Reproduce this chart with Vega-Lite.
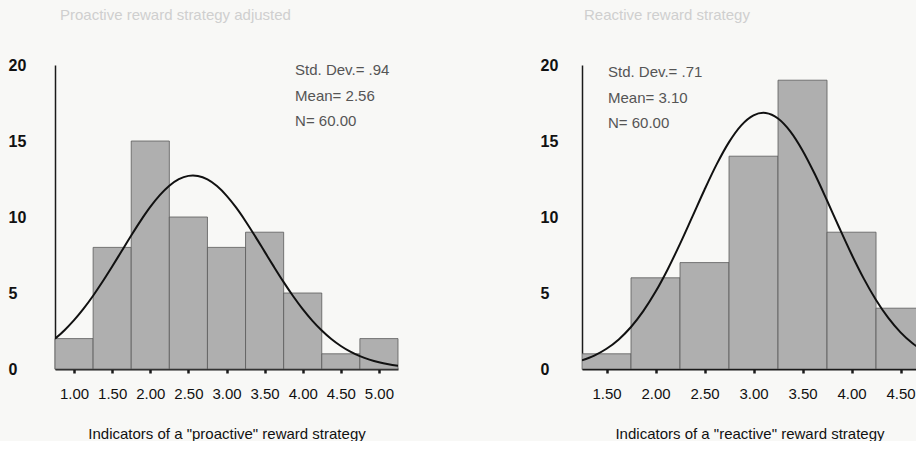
{
  "$schema": "https://vega.github.io/schema/vega-lite/v6.json",
  "background": "#f8f8f6",
  "padding": {"left": 8, "top": 8, "right": 0, "bottom": 0},
  "spacing": 141,
  "config": {
    "view": {"stroke": null},
    "font": "Liberation Sans",
    "title": {"anchor": "start", "frame": "group", "fontSize": 15, "fontWeight": "normal", "color": "#cfcfcf", "offset": 34},
    "axis": {"grid": false}
  },
  "datasets": {
    "bars_pro": [
      {"bin_start": 0.75, "bin_end": 1.25, "count": 2},
      {"bin_start": 1.25, "bin_end": 1.75, "count": 8},
      {"bin_start": 1.75, "bin_end": 2.25, "count": 15},
      {"bin_start": 2.25, "bin_end": 2.75, "count": 10},
      {"bin_start": 2.75, "bin_end": 3.25, "count": 8},
      {"bin_start": 3.25, "bin_end": 3.75, "count": 9},
      {"bin_start": 3.75, "bin_end": 4.25, "count": 5},
      {"bin_start": 4.25, "bin_end": 4.75, "count": 1},
      {"bin_start": 4.75, "bin_end": 5.25, "count": 2}
    ],
    "bars_re": [
      {"bin_start": 1.25, "bin_end": 1.75, "count": 1},
      {"bin_start": 1.75, "bin_end": 2.25, "count": 6},
      {"bin_start": 2.25, "bin_end": 2.75, "count": 7},
      {"bin_start": 2.75, "bin_end": 3.25, "count": 14},
      {"bin_start": 3.25, "bin_end": 3.75, "count": 19},
      {"bin_start": 3.75, "bin_end": 4.25, "count": 9},
      {"bin_start": 4.25, "bin_end": 4.75, "count": 4}
    ],
    "curve_pro": [
      {"x": 0.75, "y": 1.994}, {"x": 0.875, "y": 2.554}, {"x": 1.0, "y": 3.212}, {"x": 1.125, "y": 3.970},
      {"x": 1.25, "y": 4.821}, {"x": 1.375, "y": 5.752}, {"x": 1.5, "y": 6.741}, {"x": 1.625, "y": 7.764},
      {"x": 1.75, "y": 8.784}, {"x": 1.875, "y": 9.763}, {"x": 2.0, "y": 10.662}, {"x": 2.125, "y": 11.439},
      {"x": 2.25, "y": 12.058}, {"x": 2.375, "y": 12.488}, {"x": 2.5, "y": 12.706}, {"x": 2.56, "y": 12.732},
      {"x": 2.625, "y": 12.702}, {"x": 2.75, "y": 12.475}, {"x": 2.875, "y": 12.037}, {"x": 3.0, "y": 11.410},
      {"x": 3.125, "y": 10.628}, {"x": 3.25, "y": 9.725}, {"x": 3.375, "y": 8.743}, {"x": 3.5, "y": 7.722},
      {"x": 3.625, "y": 6.702}, {"x": 3.75, "y": 5.713}, {"x": 3.875, "y": 4.786}, {"x": 4.0, "y": 3.938},
      {"x": 4.125, "y": 3.184}, {"x": 4.25, "y": 2.530}, {"x": 4.375, "y": 1.973}, {"x": 4.5, "y": 1.514},
      {"x": 4.625, "y": 1.141}, {"x": 4.75, "y": 0.844}, {"x": 4.875, "y": 0.614}, {"x": 5.0, "y": 0.438},
      {"x": 5.125, "y": 0.308}, {"x": 5.25, "y": 0.212}
    ],
    "curve_re": [
      {"x": 1.25, "y": 0.566}, {"x": 1.375, "y": 0.881}, {"x": 1.5, "y": 1.331}, {"x": 1.625, "y": 1.948},
      {"x": 1.75, "y": 2.765}, {"x": 1.875, "y": 3.806}, {"x": 2.0, "y": 5.076}, {"x": 2.125, "y": 6.566},
      {"x": 2.25, "y": 8.233}, {"x": 2.375, "y": 10.008}, {"x": 2.5, "y": 11.795}, {"x": 2.625, "y": 13.477},
      {"x": 2.75, "y": 14.928}, {"x": 2.875, "y": 16.032}, {"x": 3.0, "y": 16.691}, {"x": 3.1, "y": 16.857},
      {"x": 3.125, "y": 16.847}, {"x": 3.25, "y": 16.485}, {"x": 3.375, "y": 15.639}, {"x": 3.5, "y": 14.383},
      {"x": 3.625, "y": 12.825}, {"x": 3.75, "y": 11.087}, {"x": 3.875, "y": 9.291}, {"x": 4.0, "y": 7.549},
      {"x": 4.125, "y": 5.946}, {"x": 4.25, "y": 4.540}, {"x": 4.375, "y": 3.361}, {"x": 4.5, "y": 2.413},
      {"x": 4.625, "y": 1.679}, {"x": 4.75, "y": 1.133}
    ],
    "stats_pro": [{"stats": ["Std. Dev.= .94", "Mean= 2.56", "N= 60.00"]}],
    "stats_re": [{"stats": ["Std. Dev.= .71", "Mean= 3.10", "N= 60.00"]}]
  },
  "hconcat": [
    {
      "width": 343,
      "height": 304,
      "title": {"text": "Proactive reward strategy adjusted", "dx": 5},
      "layer": [
        {
          "data": {"name": "bars_pro"},
          "mark": {"type": "rect", "fill": "#afafaf", "stroke": "#5a5a5a", "strokeWidth": 0.8},
          "encoding": {
            "x": {"field": "bin_start", "type": "quantitative",
              "scale": {"domain": [0.75, 5.25], "nice": false, "zero": false},
              "axis": {"values": [1, 1.5, 2, 2.5, 3, 3.5, 4, 4.5, 5], "format": ".2f", "labelFontSize": 15, "labelColor": "#111",
                "domainColor": "#1a1a1a", "domainWidth": 2, "tickColor": "#1a1a1a", "tickSize": 4, "tickWidth": 2.5,
                "labelPadding": 13, "labelFlush": false, "title": "Indicators of a \"proactive\" reward strategy",
                "titleFontSize": 15, "titleFontWeight": "normal", "titleColor": "#111", "titlePadding": 25}},
            "x2": {"field": "bin_end"},
            "y": {"field": "count", "type": "quantitative",
              "scale": {"domain": [0, 20], "nice": false},
              "axis": {"values": [0, 5, 10, 15, 20], "ticks": false, "tickSize": 0, "labelAlign": "left", "labelPadding": 47,
                "labelFontSize": 16, "labelFontWeight": "bold", "labelColor": "#111", "domainColor": "#1a1a1a", "domainWidth": 1.5, "title": null}},
            "y2": {"datum": 0}
          }
        },
        {
          "data": {"name": "curve_pro"},
          "mark": {"type": "line", "color": "#111", "strokeWidth": 2, "interpolate": "monotone", "clip": true},
          "encoding": {
            "x": {"field": "x", "type": "quantitative"},
            "y": {"field": "y", "type": "quantitative"}
          }
        },
        {
          "data": {"name": "stats_pro"},
          "mark": {"type": "text", "align": "left", "baseline": "top", "lineHeight": 25.5, "fontSize": 15, "color": "#555"},
          "encoding": {
            "x": {"datum": 3.9},
            "y": {"datum": 20.1},
            "text": {"field": "stats"}
          }
        }
      ]
    },
    {
      "width": 335,
      "height": 304,
      "title": {"text": "Reactive reward strategy", "dx": 2},
      "layer": [
        {
          "data": {"name": "bars_re"},
          "mark": {"type": "rect", "fill": "#afafaf", "stroke": "#5a5a5a", "strokeWidth": 0.8, "clip": true},
          "encoding": {
            "x": {"field": "bin_start", "type": "quantitative",
              "scale": {"domain": [1.25, 4.668], "nice": false, "zero": false},
              "axis": {"values": [1.5, 2, 2.5, 3, 3.5, 4, 4.5], "format": ".2f", "labelFontSize": 15, "labelColor": "#111",
                "domainColor": "#1a1a1a", "domainWidth": 2, "tickColor": "#1a1a1a", "tickSize": 4, "tickWidth": 2.5,
                "labelPadding": 13, "labelFlush": false, "title": "Indicators of a \"reactive\" reward strategy",
                "titleFontSize": 15, "titleFontWeight": "normal", "titleColor": "#111", "titlePadding": 25}},
            "x2": {"field": "bin_end"},
            "y": {"field": "count", "type": "quantitative",
              "scale": {"domain": [0, 20], "nice": false},
              "axis": {"values": [0, 5, 10, 15, 20], "ticks": false, "tickSize": 0, "labelAlign": "left", "labelPadding": 42,
                "labelFontSize": 16, "labelFontWeight": "bold", "labelColor": "#111", "domainColor": "#1a1a1a", "domainWidth": 1.5, "title": null}},
            "y2": {"datum": 0}
          }
        },
        {
          "data": {"name": "curve_re"},
          "mark": {"type": "line", "color": "#111", "strokeWidth": 2, "interpolate": "monotone", "clip": true},
          "encoding": {
            "x": {"field": "x", "type": "quantitative"},
            "y": {"field": "y", "type": "quantitative"}
          }
        },
        {
          "data": {"name": "stats_re"},
          "mark": {"type": "text", "align": "left", "baseline": "top", "lineHeight": 25.5, "fontSize": 15, "color": "#555"},
          "encoding": {
            "x": {"datum": 1.515},
            "y": {"datum": 20.0},
            "text": {"field": "stats"}
          }
        }
      ]
    }
  ]
}
